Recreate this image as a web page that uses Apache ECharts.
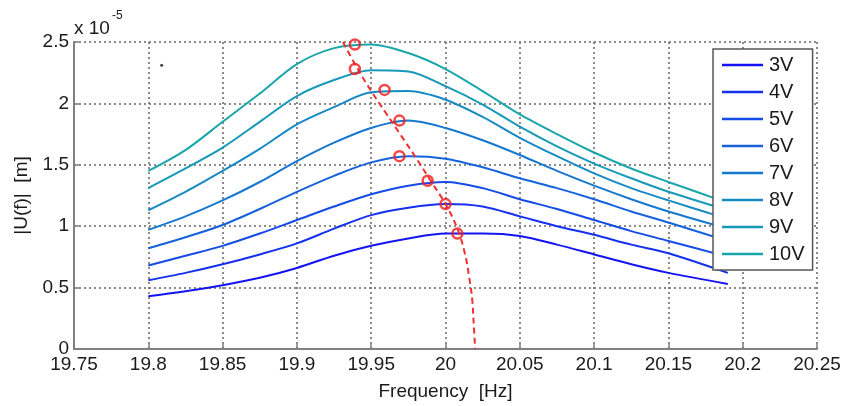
<!DOCTYPE html>
<html>
<head>
<meta charset="utf-8">
<script src="https://cdn.jsdelivr.net/npm/echarts@6/dist/echarts.min.js"></script>
<style>
html,body{margin:0;padding:0;background:#fff;}
#chart{width:845px;height:406px;}
</style>
</head>
<body>
<div id="chart"></div>
<script>
// Frequency samples [Hz]
var freq = [19.8, 19.825, 19.85, 19.875, 19.9, 19.925, 19.95, 19.975, 20.0, 20.025, 20.05, 20.075, 20.1, 20.125, 20.15, 20.19];
// |U(f)| in units of 1e-5 m
var u3V  = [0.43, 0.47, 0.52, 0.58, 0.66, 0.76, 0.84, 0.90, 0.94, 0.94, 0.92, 0.85, 0.77, 0.69, 0.62, 0.53];
var u4V  = [0.56, 0.62, 0.69, 0.77, 0.86, 0.98, 1.09, 1.15, 1.18, 1.16, 1.08, 1.00, 0.93, 0.85, 0.78, 0.62];
var u5V  = [0.68, 0.76, 0.84, 0.94, 1.05, 1.16, 1.26, 1.33, 1.36, 1.31, 1.22, 1.14, 1.05, 0.96, 0.88, 0.75];
var u6V  = [0.82, 0.91, 1.01, 1.14, 1.28, 1.41, 1.52, 1.57, 1.55, 1.48, 1.39, 1.31, 1.22, 1.12, 1.03, 0.88];
var u7V  = [0.97, 1.08, 1.21, 1.36, 1.53, 1.68, 1.80, 1.86, 1.80, 1.70, 1.58, 1.45, 1.33, 1.22, 1.12, 0.98];
var u8V  = [1.13, 1.28, 1.45, 1.63, 1.83, 1.97, 2.09, 2.10, 2.03, 1.89, 1.72, 1.57, 1.43, 1.31, 1.21, 1.06];
var u9V  = [1.31, 1.47, 1.64, 1.85, 2.06, 2.19, 2.27, 2.26, 2.14, 1.99, 1.81, 1.65, 1.51, 1.39, 1.28, 1.13];
var u10V = [1.45, 1.62, 1.85, 2.08, 2.32, 2.45, 2.48, 2.41, 2.28, 2.10, 1.91, 1.75, 1.60, 1.47, 1.36, 1.19];
var seriesNames = ['3V', '4V', '5V', '6V', '7V', '8V', '9V', '10V'];
var seriesColors = ['#1414f2', '#1530ee', '#154be6', '#1562dc', '#1577d0', '#168ac4', '#1799b8', '#19a6ab'];
// Peak markers
var peakFreq = [20.008, 20.0, 19.988, 19.969, 19.969, 19.959, 19.939, 19.939];
var peakAmp  = [0.94, 1.18, 1.37, 1.57, 1.86, 2.11, 2.28, 2.48];
// Backbone (dashed red)
var backFreq = [19.931, 19.94, 19.95, 19.96, 19.97, 19.98, 19.99, 20.0, 20.008, 20.013, 20.016, 20.018, 20.019, 20.02];
var backAmp  = [2.50, 2.30, 2.10, 1.92, 1.74, 1.56, 1.37, 1.18, 0.98, 0.78, 0.58, 0.40, 0.20, 0.00];
// stray dot in the original figure
var strayFreq = [19.809];
var strayAmp = [2.31];
// Axis ticks
var xMin = 19.75, xMax = 20.25, xStep = 0.05;
var yMin = 0, yMax = 2.5, yStep = 0.5;

function pairs(xs, ys) { return xs.map(function (x, i) { return [x, ys[i]]; }); }

var allVals = [u3V, u4V, u5V, u6V, u7V, u8V, u9V, u10V];
var FONT = 'Liberation Sans, Arial, sans-serif';
var series = allVals.map(function (vals, i) {
  return {
    name: seriesNames[i], type: 'line', data: pairs(freq, vals),
    symbol: 'none', smooth: 0.3, z: 2,
    lineStyle: { color: seriesColors[i], width: 2 },
    itemStyle: { color: seriesColors[i] }
  };
});
series.push({
  name: 'backbone', type: 'line', data: pairs(backFreq, backAmp),
  symbol: 'none', smooth: 0.4, z: 3,
  lineStyle: { color: '#f03030', width: 2, type: [6, 4] }
});
series.push({
  name: 'peaks', type: 'scatter', data: pairs(peakFreq, peakAmp),
  symbol: 'circle', symbolSize: 10, z: 4,
  itemStyle: { color: 'rgba(0,0,0,0)', borderColor: '#f01a1a', borderWidth: 2.5 }
});
series.push({
  name: 'stray', type: 'scatter', data: pairs(strayFreq, strayAmp),
  symbol: 'circle', symbolSize: 3, z: 4,
  itemStyle: { color: '#111' }
});

var chart = echarts.init(document.getElementById('chart'), null, { renderer: 'canvas' });
chart.setOption({
  animation: false,
  backgroundColor: '#fff',
  grid: { left: 74, right: 28, top: 42, bottom: 54, containLabel: false },
  legend: {
    data: seriesNames, orient: 'vertical', left: 713, top: 49,
    icon: 'rect', padding: [6, 8, 6, 9], itemGap: 7, itemWidth: 41, itemHeight: 2.5,
    backgroundColor: '#fff', borderColor: '#555', borderWidth: 1.5,
    textStyle: { fontFamily: FONT, fontSize: 20, color: '#1a1a1a', lineHeight: 20, padding: [0, 0, 0, 1] },
    selectedMode: false
  },
  graphic: [
    { type: 'text', left: 74, top: 19, style: { text: 'x 10', font: '19px ' + FONT, fill: '#1a1a1a' } },
    { type: 'text', left: 112, top: 10, style: { text: '-5', font: '12px ' + FONT, fill: '#1a1a1a' } }
  ],
  xAxis: {
    type: 'value', min: xMin, max: xMax, interval: xStep,
    name: 'Frequency  [Hz]', nameLocation: 'middle', nameGap: 33,
    nameTextStyle: { fontFamily: FONT, fontSize: 19, color: '#1a1a1a' },
    axisLine: { show: true, onZero: false, lineStyle: { color: '#808080', width: 2 } },
    axisTick: { show: true, inside: true, length: 5, lineStyle: { color: '#808080', width: 1.5 } },
    axisLabel: {
      fontFamily: FONT, fontSize: 19, color: '#1a1a1a', margin: 6,
      formatter: function (v) { return String(parseFloat(v.toFixed(2))); }
    },
    splitLine: { show: true, lineStyle: { color: '#666', width: 1.5, type: [2, 3] } }
  },
  yAxis: {
    type: 'value', min: yMin, max: yMax, interval: yStep,
    name: '|U(f)|  [m]', nameLocation: 'middle', nameGap: 42, nameRotate: 90,
    nameTextStyle: { fontFamily: FONT, fontSize: 19, color: '#1a1a1a' },
    axisLine: { show: true, lineStyle: { color: '#808080', width: 2 } },
    axisTick: { show: true, inside: true, length: 5, lineStyle: { color: '#808080', width: 1.5 } },
    axisLabel: {
      fontFamily: FONT, fontSize: 19, color: '#1a1a1a', margin: 5,
      formatter: function (v) { return String(parseFloat(v.toFixed(2))); }
    },
    splitLine: { show: true, lineStyle: { color: '#666', width: 1.5, type: [2, 3] } }
  },
  series: series
});
</script>
</body>
</html>
